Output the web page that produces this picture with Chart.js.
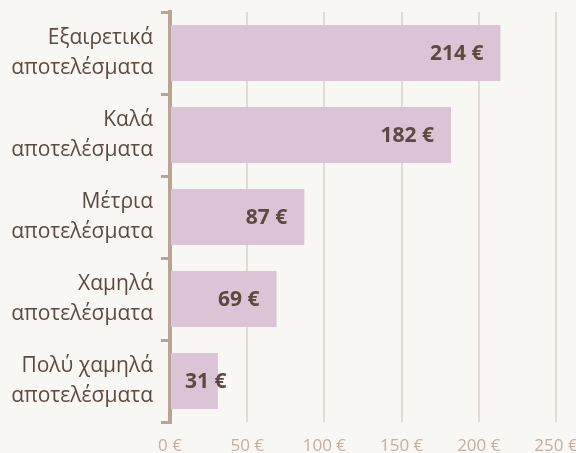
<!DOCTYPE html>
<html>
<head>
<meta charset="utf-8">
<script src="https://cdn.jsdelivr.net/npm/chart.js@4.4.1/dist/chart.umd.min.js"></script>
<style>
  html, body { margin: 0; padding: 0; background: #f9f7f4; overflow: hidden; }
  #wrap { width: 596px; height: 453px; }
</style>
</head>
<body>
<div id="wrap"><canvas id="chart" width="596" height="453"></canvas></div>
<script>
// Κατηγορίες και τιμές (€)
const categories = [
  ['Εξαιρετικά', 'αποτελέσματα'],
  ['Καλά', 'αποτελέσματα'],
  ['Μέτρια', 'αποτελέσματα'],
  ['Χαμηλά', 'αποτελέσματα'],
  ['Πολύ χαμηλά', 'αποτελέσματα']
];
const values = [214, 182, 87, 69, 31];
const xTicks = [0, 50, 100, 150, 200, 250];

const axisColor = '#b8a598';
const textColor = '#5b4a3f';

// Ετικέτες τιμών μέσα στις μπάρες
const valueLabels = {
  id: 'valueLabels',
  afterDatasetsDraw(chart) {
    const ctx = chart.ctx;
    const meta = chart.getDatasetMeta(0);
    const left = chart.chartArea.left;
    ctx.save();
    ctx.font = 'bold 21px "Open Sans"';
    ctx.fillStyle = textColor;
    ctx.textAlign = 'right';
    ctx.textBaseline = 'middle';
    meta.data.forEach((bar, i) => {
      const txt = values[i] + ' €';
      const w = ctx.measureText(txt).width;
      const x = Math.max(bar.x - 17, left + 15 + w);
      ctx.fillText(txt, x, bar.y + 1);
    });
    ctx.restore();
  }
};

new Chart(document.getElementById('chart'), {
  type: 'bar',
  data: {
    labels: categories,
    datasets: [{
      data: values,
      backgroundColor: '#dbc4d5',
      borderWidth: 0,
      barPercentage: 0.68,
      categoryPercentage: 1
    }]
  },
  options: {
    indexAxis: 'y',
    responsive: false,
    animation: false,
    layout: { padding: { top: 12, right: 40 } },
    plugins: { legend: { display: false }, tooltip: { enabled: false } },
    scales: {
      x: {
        min: 0,
        max: 250,
        afterBuildTicks(scale) { scale.ticks = xTicks.map(v => ({ value: v })); },
        afterFit(scale) { scale.height = 31; },
        border: { display: false },
        grid: { color: '#e2dad4', lineWidth: 2, drawTicks: false },
        ticks: {
          padding: 14,
          color: '#c4ae9f',
          font: { family: '"Open Sans"', size: 17 },
          callback: v => v + ' €'
        }
      },
      y: {
        afterFit(scale) {
          scale.width = 170;
          scale.paddingTop = 0;
          scale.paddingBottom = 0;
        },
        border: { color: axisColor, width: 4 },
        grid: {
          offset: true,
          drawOnChartArea: false,
          color: axisColor,
          lineWidth: 3,
          tickLength: 9
        },
        ticks: {
          padding: 8,
          color: textColor,
          font: { family: '"Open Sans"', size: 21, lineHeight: 1.43 }
        }
      }
    }
  },
  plugins: [valueLabels]
});
</script>
</body>
</html>
